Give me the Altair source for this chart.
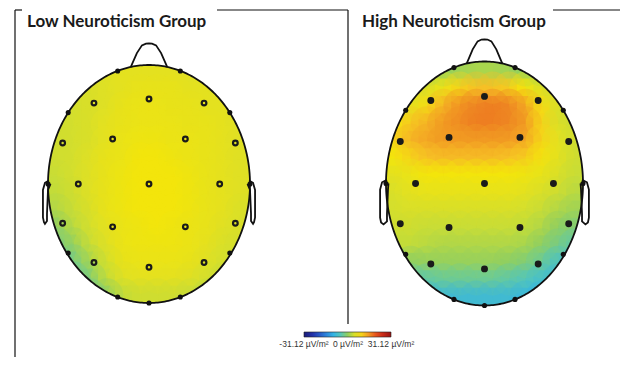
import altair as alt
import pandas as pd
import numpy as np

# ---------------- data ----------------
titles = ["Low Neuroticism Group", "High Neuroticism Group"]
cbar_values = [-31.12, 0, 31.12]
cbar_labels = ["-31.12 µV/m²", "0 µV/m²", "31.12 µV/m²"]

# estimated field values (µV/m²) on a 14-row x 12-column grid over each head
low_grid = [
    [5, 5, 5, 5.5, 6, 6, 6, 6, 5.5, 5.5, 5.5, 5.5],
    [5, 5, 5, 5.5, 6, 6.5, 6.5, 6.5, 6, 6, 5.5, 5.5],
    [4.5, 4.5, 5, 5.5, 6.5, 7, 7, 6.5, 6.5, 6, 6, 5.5],
    [4, 4.5, 5, 6, 6.5, 7, 7, 7, 6.5, 6.5, 6, 5.5],
    [4, 4.5, 5, 6, 7, 7.5, 7.5, 7, 7, 6.5, 6, 5.5],
    [4, 4.5, 5.5, 6.5, 7, 8, 8, 7.5, 7, 6.5, 6, 5.5],
    [3.5, 4.5, 5.5, 6.5, 7.5, 8, 8, 8, 7.5, 6.5, 6, 5.5],
    [3, 4, 5.5, 6.5, 7.5, 8, 8, 8, 7.5, 6.5, 6, 5.5],
    [2, 3.5, 5, 6.5, 7.5, 8, 8, 8, 7.5, 6.5, 6, 5],
    [0, 2.5, 4.5, 6, 7, 7.5, 8, 7.5, 7, 6.5, 5.5, 5],
    [-2, 0.5, 3.5, 5.5, 7, 7.5, 7.5, 7.5, 7, 6, 5, 4.5],
    [-4, -2, 1.5, 4.5, 6.5, 7, 7, 7, 6.5, 5.5, 4.5, 4],
    [-5, -4, -1, 3, 5.5, 6, 6, 6, 5.5, 4.5, 3.5, 3],
    [-6, -5, -3, 0, 3, 4, 4, 4, 3.5, 2.5, 2, 2],
]
high_grid = [
    [-1, -1, -1, 0, 1, 1.5, 1.5, 1, 0, -1, -1, -1],
    [2, 3, 5, 7, 10, 12, 12, 11, 8, 5, 3, 2],
    [4, 6, 9, 13, 15.5, 16.5, 17, 16.5, 14, 9, 5, 3],
    [8, 11, 13, 15, 16, 17, 17, 16.5, 15, 10, 5, 4],
    [10, 13, 14, 15, 15, 15, 15, 15, 14, 10, 6, 4],
    [8, 10, 12, 12.5, 12.5, 12.5, 12.5, 12, 11, 8.5, 6, 4],
    [6, 7, 8, 8, 8, 8, 8, 8, 7.5, 6.5, 5, 3.5],
    [5, 6, 6.5, 6.5, 6.5, 6.5, 6.5, 6.5, 6, 5, 4, 2.5],
    [4.5, 5, 5, 5, 5, 5, 5, 5, 4.5, 3.5, 2, 1],
    [4, 4, 3.5, 3.5, 3.5, 3.5, 3.5, 3.5, 3, 2, 0, -1],
    [3, 3, 2.5, 2, 2, 2, 2, 2, 1.5, 0, -2, -4],
    [0, 0, 0.5, 0.5, 0.5, 0.5, 0.5, 0, -1, -3, -6, -7],
    [-3, -4, -4, -3, -3, -3, -3, -4, -5, -7, -8, -8],
    [-8, -8, -8, -8, -8, -8, -8, -8, -9, -10, -10, -10],
]

# electrode positions, normalised to the head ellipse (u: left-right, v: top-bottom)
elec_u = [-0.31, 0.31, -0.80, 0.80, -1.0, 1.0, -0.80, 0.80, -0.31, 0.31, 0.0,
          0.0, -0.545, 0.545, -0.36, 0.36, -0.855, 0.855, -0.70, 0.0, 0.70,
          -0.855, 0.855, -0.36, 0.36, -0.545, 0.545, 0.0]
elec_v = [-0.95, -0.95, -0.60, -0.60, 0.0, 0.0, 0.58, 0.58, 0.95, 0.95, 1.0,
          -0.714, -0.68, -0.68, -0.378, -0.378, -0.345, -0.345, 0.0, 0.0, 0.0,
          0.33, 0.33, 0.36, 0.36, 0.66, 0.66, 0.70]
elec_edge = [True] * 11 + [False] * 17

# colour scale stops (µV/m²) and colours of the colour bar
stop_values = [-31.12, -24, -17, -10, -5, 0, 3, 6, 8, 12, 16, 22, 31.12]
stop_colors = ["#1c1c78", "#2436b0", "#2a73d6", "#33b4e4", "#55c6b8", "#8fcf62",
               "#c4dc3a", "#e4e11f", "#f3e50c", "#f6c126", "#f08d22", "#e23a1c", "#981212"]

# ---------------- layout (pixels) ----------------
heads = [
    dict(name="low", grid=low_grid, cx=149, cy=184, rx=101, ry=119, ear_in=-1.01, ear_out=-1.05),
    dict(name="high", grid=high_grid, cx=484.5, cy=183.5, rx=98.5, ry=122, ear_in=-0.99, ear_out=-1.06),
]

M = 16  # mask margin
cells, masks, side_masks, shapes, edge_pts, ring_pts, dot_pts = [], [], [], [], [], [], []
for h in heads:
    cx, cy, rx, ry = h["cx"], h["cy"], h["rx"], h["ry"]
    g = h["grid"]
    nr, nc = len(g), len(g[0])
    for j in range(nr):
        for i in range(nc):
            u0 = -1 + 2 * i / nc
            u1 = -1 + 2 * (i + 1) / nc
            v0 = -1 + 2 * j / nr
            v1 = -1 + 2 * (j + 1) / nr
            cells.append(dict(x=cx + rx * u0 - 0.4, x2=cx + rx * u1 + 0.4,
                              y=cy + ry * v0 - 0.4, y2=cy + ry * v1 + 0.4,
                              xc=cx + rx * (u0 + u1) / 2, yc=cy + ry * (v0 + v1) / 2,
                              value=g[j][i]))
    th = np.linspace(0, np.pi, 241)
    uu = -np.cos(th)
    for k, u in enumerate(uu):
        s = np.sqrt(max(0.0, 1 - u * u))
        masks.append(dict(m=h["name"] + "top", x=cx + rx * u, y=cy - ry - M, y2=cy - ry * s))
        masks.append(dict(m=h["name"] + "bot", x=cx + rx * u, y=cy + ry * s, y2=cy + ry + M))
    side_masks.append(dict(x=cx - rx - M, x2=cx - rx, y=cy - ry - M, y2=cy + ry + M))
    side_masks.append(dict(x=cx + rx, x2=cx + rx + M, y=cy - ry - M, y2=cy + ry + M))
    # head outline
    t = np.linspace(0, 2 * np.pi, 361)
    for k, a in enumerate(t):
        shapes.append(dict(s=h["name"] + "head", o=k, x=cx + rx * np.cos(a), y=cy + ry * np.sin(a)))
    # nose
    nose_u = [-0.18, -0.12, -0.07, -0.03, 0.0, 0.03, 0.07, 0.12, 0.18]
    nose_v = [-0.985, -1.10, -1.165, -1.18, -1.182, -1.18, -1.165, -1.10, -0.985]
    for k, (u, v) in enumerate(zip(nose_u, nose_v)):
        shapes.append(dict(s=h["name"] + "nose", o=k, x=cx + rx * u, y=cy + ry * v))
    # ears
    ei, eo = h["ear_in"], h["ear_out"]
    ear_u = [-0.99, eo + 0.02, eo, eo, eo + 0.01, (eo + ei) / 2, ei, ei, ei + 0.01, -0.975]
    ear_v = [-0.03, -0.01, 0.05, 0.28, 0.32, 0.335, 0.31, 0.25, 0.05, 0.0]
    for side in (1, -1):
        for k, (u, v) in enumerate(zip(ear_u, ear_v)):
            shapes.append(dict(s=h["name"] + "ear" + str(side), o=k, x=cx + side * rx * u, y=cy + ry * v))
    for u, v, e in zip(elec_u, elec_v, elec_edge):
        p = dict(x=cx + rx * u, y=cy + ry * v)
        if e:
            edge_pts.append(p)
        elif h["name"] == "low":
            ring_pts.append(p)
        else:
            dot_pts.append(p)

cells = pd.DataFrame(cells)
masks = pd.DataFrame(masks)
side_masks = pd.DataFrame(side_masks)
shapes = pd.DataFrame(shapes)
edge_pts = pd.DataFrame(edge_pts)
ring_pts = pd.DataFrame(ring_pts)
dot_pts = pd.DataFrame(dot_pts)

frame = pd.DataFrame([
    dict(x=15, x2=15, y=10, y2=365),
    dict(x=15, x2=22, y=10, y2=10),
    dict(x=217, x2=348, y=10, y2=10),
    dict(x=348, x2=348, y=10, y2=324),
    dict(x=348, x2=348, y=358, y2=365),
    dict(x=553, x2=628, y=10, y2=10),
])
title_df = pd.DataFrame(dict(x=[27, 362], y=[27, 27], t=titles))
cbar_df = pd.DataFrame(dict(x=[304, 348, 391], y=[346.5, 346.5, 346.5], t=cbar_labels))

X = alt.Scale(domain=[8, 620], nice=False, zero=False)
Y = alt.Scale(domain=[8, 357], nice=False, zero=False, reverse=True)

color_enc = alt.Color(
    "value:Q",
    scale=alt.Scale(domain=stop_values, range=stop_colors, interpolate="rgb"),
    legend=alt.Legend(orient="none", legendX=296, legendY=324, direction="horizontal",
                      title=None, values=cbar_values, labelExpr="''", labelOpacity=0,
                      gradientLength=87, gradientThickness=5, gradientOpacity=1,
                      gradientStrokeColor="#222", gradientStrokeWidth=0.6, padding=0),
)

cell_layer = alt.Chart(cells).mark_rect(strokeWidth=0).encode(
    x=alt.X("x:Q", scale=X, axis=None), x2="x2:Q",
    y=alt.Y("y:Q", scale=Y, axis=None), y2="y2:Q",
    color=color_enc,
)
# soft overlay of the same cells to smooth block edges
blend_layer = alt.Chart(cells).mark_circle(opacity=0.35, size=1050, strokeWidth=0).encode(
    x=alt.X("xc:Q", scale=X, axis=None),
    y=alt.Y("yc:Q", scale=Y, axis=None),
    color=color_enc,
)

mask_layer = alt.Chart(masks).mark_area(color="white", opacity=1, strokeWidth=0).encode(
    x=alt.X("x:Q", scale=X, axis=None),
    y=alt.Y("y:Q", scale=Y, axis=None), y2="y2:Q",
    detail="m:N",
)
side_layer = alt.Chart(side_masks).mark_rect(color="white", opacity=1, strokeWidth=0).encode(
    x=alt.X("x:Q", scale=X, axis=None), x2="x2:Q",
    y=alt.Y("y:Q", scale=Y, axis=None), y2="y2:Q",
)

shape_layer = alt.Chart(shapes).mark_line(color="#111", strokeWidth=1.8).encode(
    x=alt.X("x:Q", scale=X, axis=None),
    y=alt.Y("y:Q", scale=Y, axis=None),
    detail="s:N", order="o:Q",
)

edge_layer = alt.Chart(edge_pts).mark_circle(color="#111", size=26, opacity=1).encode(
    x=alt.X("x:Q", scale=X, axis=None), y=alt.Y("y:Q", scale=Y, axis=None))
ring_layer = alt.Chart(ring_pts).mark_point(color="#1a1a1a", size=22, strokeWidth=2.2, filled=False, opacity=1).encode(
    x=alt.X("x:Q", scale=X, axis=None), y=alt.Y("y:Q", scale=Y, axis=None))
dot_layer = alt.Chart(dot_pts).mark_circle(color="#1a1a1a", size=48, opacity=1).encode(
    x=alt.X("x:Q", scale=X, axis=None), y=alt.Y("y:Q", scale=Y, axis=None))

frame_layer = alt.Chart(frame).mark_rule(color="#111", strokeWidth=1.2).encode(
    x=alt.X("x:Q", scale=X, axis=None), x2="x2:Q",
    y=alt.Y("y:Q", scale=Y, axis=None), y2="y2:Q")

title_layer = alt.Chart(title_df).mark_text(
    align="left", baseline="alphabetic", font="Lato", fontWeight="bold", fontSize=17, color="#1a1a1a"
).encode(x=alt.X("x:Q", scale=X, axis=None), y=alt.Y("y:Q", scale=Y, axis=None), text="t:N")

cbar_text = alt.Chart(cbar_df).mark_text(
    align="center", baseline="alphabetic", font="Liberation Sans", fontSize=8.5, color="#333"
).encode(x=alt.X("x:Q", scale=X, axis=None), y=alt.Y("y:Q", scale=Y, axis=None), text="t:N")

chart = alt.layer(cell_layer, blend_layer, mask_layer, side_layer, shape_layer, edge_layer,
                  ring_layer, dot_layer, frame_layer, title_layer, cbar_text).properties(
    width=612, height=349, padding=0, autosize="none"
).configure_view(stroke=None)

chart.save("out.html", embed_options={"renderer": "svg", "actions": False})
